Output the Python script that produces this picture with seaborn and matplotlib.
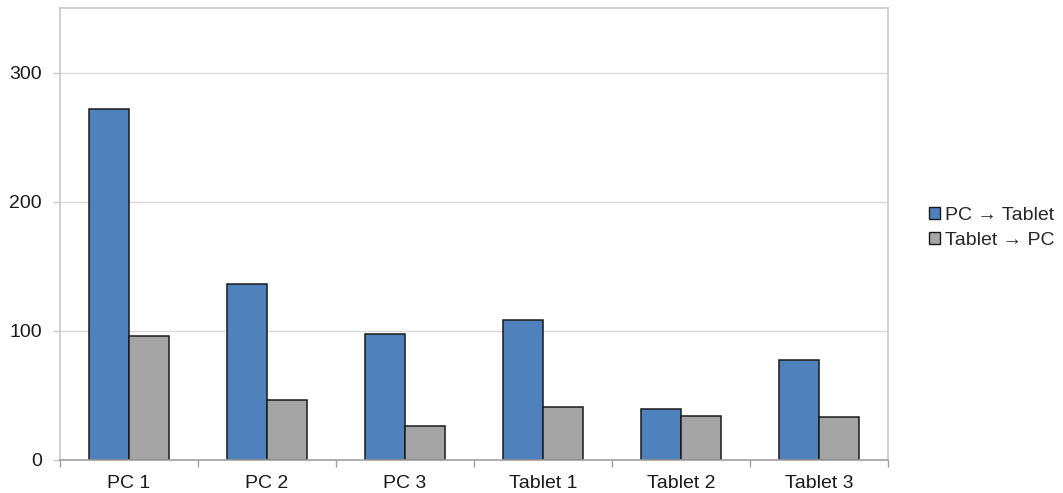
import matplotlib
matplotlib.use("Agg")
import matplotlib.pyplot as plt
import seaborn as sns
import pandas as pd
from matplotlib.patches import Patch
from matplotlib.ticker import FixedLocator, NullFormatter

# Devices and the number of transitions in each direction
devices = ["PC 1", "PC 2", "PC 3", "Tablet 1", "Tablet 2", "Tablet 3"]
pc_to_tablet = [272, 136, 97, 108, 39, 77.5]
tablet_to_pc = [96, 46, 26, 41, 33.5, 33]
series_names = ["PC \u2192 Tablet", "Tablet \u2192 PC"]
y_ticks = [0, 100, 200, 300]

df = pd.DataFrame({
    "device": devices * 2,
    "count": pc_to_tablet + tablet_to_pc,
    "direction": [series_names[0]] * len(devices) + [series_names[1]] * len(devices),
})

sns.set_theme(style="white")
plt.rcParams["font.family"] = ["Liberation Sans", "DejaVu Sans"]

colors = ["#4F81BD", "#A5A5A5"]
edge = "#1a1a1a"
fs = 14

fig = plt.figure(figsize=(10.63, 4.93), dpi=100)
ax = fig.add_axes([60 / 1063, 1 - 459.5 / 493, (888 - 60) / 1063, (459.5 - 8) / 493])

sns.barplot(data=df, x="device", y="count", hue="direction", order=devices,
            hue_order=series_names, palette=colors, width=0.575,
            edgecolor=edge, linewidth=1.1, saturation=1, ax=ax, legend=False)

ax.set_xlim(-0.5, len(devices) - 0.5)
ax.set_ylim(0, 350)
ax.set_yticks(y_ticks)
ax.set_yticklabels([str(t) for t in y_ticks], fontsize=fs, color="#1a1a1a")
ax.set_xticks(range(len(devices)))
ax.set_xticklabels(devices, fontsize=fs, color="#1a1a1a")
ax.set_xlabel("")
ax.set_ylabel("")

# Gridlines and plot-area border
ax.set_axisbelow(True)
ax.yaxis.grid(True, color="#d9d9d9", linewidth=1)
ax.xaxis.grid(False)
for side in ["top", "right", "left"]:
    ax.spines[side].set_visible(True)
    ax.spines[side].set_color("#c8c8c8")
    ax.spines[side].set_linewidth(1.2)
ax.spines["bottom"].set_color("#a0a0a0")
ax.spines["bottom"].set_linewidth(1.2)

# Category-boundary tick marks on the x axis, short marks on the y axis
ax.tick_params(axis="x", which="major", length=0, pad=11)
ax.xaxis.set_minor_locator(FixedLocator([i - 0.5 for i in range(len(devices) + 1)]))
ax.xaxis.set_minor_formatter(NullFormatter())
ax.tick_params(axis="x", which="minor", bottom=True, length=5, width=1, color="#a0a0a0")
ax.tick_params(axis="y", which="major", left=True, length=5, width=1, color="#c8c8c8", pad=8)

handles = [Patch(facecolor=c, edgecolor=edge, linewidth=1.0) for c in colors]
fig.legend(handles, series_names, loc="center left", bbox_to_anchor=(921 / 1063, 1 - 228 / 493),
           frameon=False, fontsize=fs, handlelength=0.6, handleheight=0.6,
           handletextpad=0.25, labelspacing=0.4, borderaxespad=0)

fig.savefig("out.png", dpi=100)
